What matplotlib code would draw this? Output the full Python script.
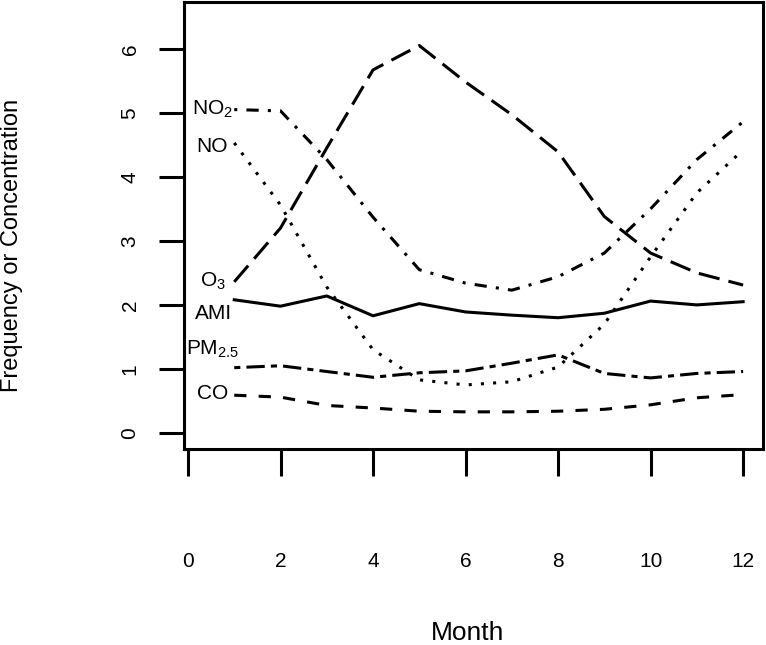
"""
Monthly frequency of AMI and pollutant concentrations (R base-graphics look).
"""

import matplotlib
matplotlib.use("Agg")
import matplotlib.pyplot as plt

# --- Data ---
months = [1, 2, 3, 4, 5, 6, 7, 8, 9, 10, 11, 12]

o3 = [2.36, 3.20, 4.45, 5.67, 6.05, 5.48, 4.97, 4.39, 3.38, 2.81, 2.50, 2.31]
no2 = [5.05, 5.03, 4.27, 3.37, 2.55, 2.34, 2.23, 2.44, 2.81, 3.50, 4.27, 4.86]
no = [4.53, 3.56, 2.28, 1.30, 0.83, 0.75, 0.80, 1.03, 1.70, 2.75, 3.75, 4.42]
ami = [2.08, 1.98, 2.14, 1.83, 2.02, 1.89, 1.84, 1.80, 1.87, 2.06, 2.00, 2.05]
pm25 = [1.02, 1.05, 0.96, 0.87, 0.94, 0.97, 1.09, 1.22, 0.93, 0.86, 0.93, 0.96]
co = [0.59, 0.56, 0.43, 0.39, 0.34, 0.33, 0.33, 0.34, 0.37, 0.44, 0.55, 0.60]

# series label text and where it sits (x, y)
labels = [r"NO$\mathregular{_2}$", "NO", r"O$\mathregular{_3}$", "AMI",
          r"PM$\mathregular{_{2.5}}$", "CO"]
label_x = [0.97, 0.87, 0.83, 0.95, 1.10, 0.87]
label_y = [5.06, 4.48, 2.37, 1.87, 1.31, 0.61]

x_ticks = [0, 2, 4, 6, 8, 10, 12]
y_ticks = [0, 1, 2, 3, 4, 5, 6]

plt.rcParams['font.family'] = ['Liberation Sans', 'DejaVu Sans']
plt.rcParams['mathtext.fontset'] = 'custom'
plt.rcParams['mathtext.rm'] = 'Liberation Sans'

W, H = 766, 645
fig = plt.figure(figsize=(W / 100, H / 100), dpi=100)
ax = fig.add_axes([184 / W, 1 - 449 / H, (763 - 184) / W, (449 - 2) / H])

lw = 2.2
# R line types: longdash, dotdash, dotted, solid, twodash, dashed
ax.plot(months, o3, color="black", lw=lw, linestyle=(0, (7, 3)))
ax.plot(months, no2, color="black", lw=lw, linestyle=(0, (1, 3, 4, 3)))
ax.plot(months, no, color="black", lw=lw, linestyle=(0, (1, 3)))
ax.plot(months, ami, color="black", lw=lw, linestyle="-")
ax.plot(months, pm25, color="black", lw=lw, linestyle=(0, (2, 2, 6, 2)))
ax.plot(months, co, color="black", lw=lw, linestyle=(0, (4, 4)))

for txt, lx, ly in zip(labels, label_x, label_y):
    ax.text(lx, ly, txt, ha="right", va="center", fontsize=15)

ax.set_xlim(-0.086, 12.43)
ax.set_ylim(-0.25, 6.73)

ax.set_xticks(x_ticks)
ax.set_yticks(y_ticks)
ax.tick_params(axis="x", direction="out", length=19.5, width=2.2,
               pad=55, labelsize=15)
ax.tick_params(axis="y", direction="out", length=18, width=2.2,
               pad=14, labelsize=15, labelrotation=90)
for t in ax.get_yticklabels():
    t.set_va("center")

for s in ax.spines.values():
    s.set_linewidth(2.2)

fig.text(468 / W, 1 - 633 / H, "Month", ha="center", va="center", fontsize=19)
fig.text(12 / W, 1 - 245 / H, "Frequency or Concentration", ha="center",
         va="center", rotation=90, fontsize=17)

fig.savefig("out.png", dpi=100)
